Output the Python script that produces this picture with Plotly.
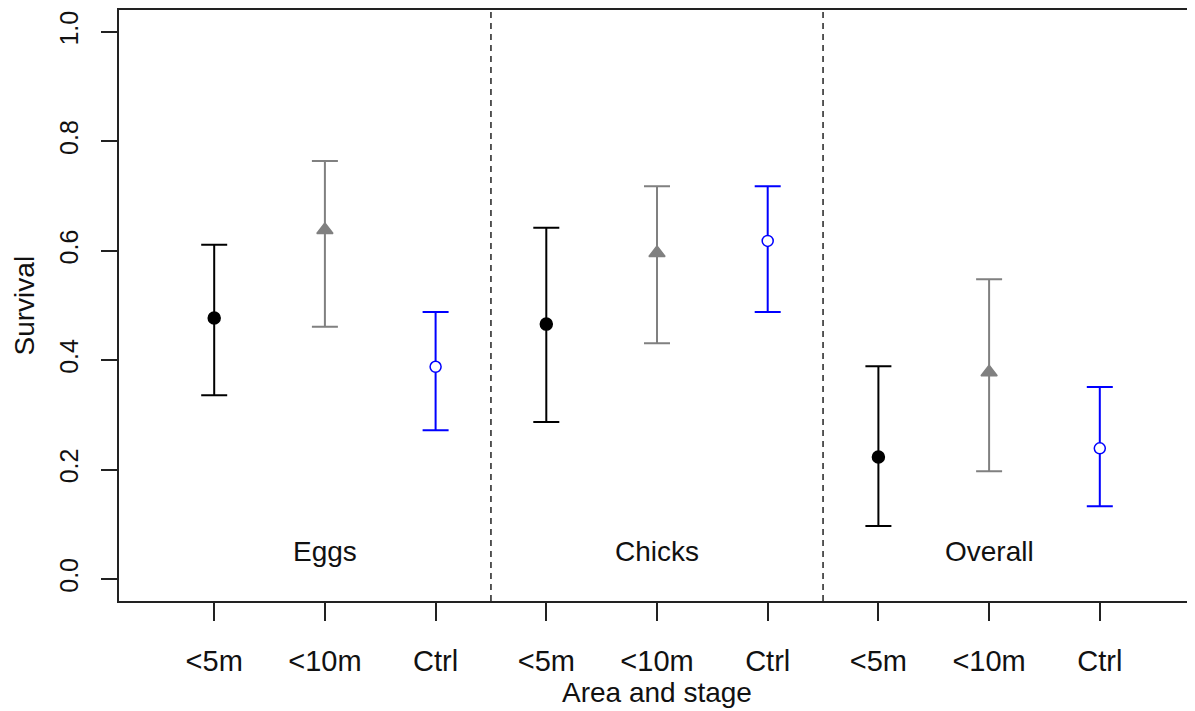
import plotly.graph_objects as go

# ---- data ----
groups = ["Eggs", "Chicks", "Overall"]
tick_labels = ["<5m", "<10m", "Ctrl", "<5m", "<10m", "Ctrl", "<5m", "<10m", "Ctrl"]
tick_positions = [1, 2, 3, 4, 5, 6, 7, 8, 9]
group_label_x = [2, 5, 8]
group_label_y = [0.05, 0.05, 0.05]
separators = [3.5, 6.5]

series_names = ["<5m", "<10m", "Ctrl"]
x_5m = [1, 4, 7]
x_10m = [2, 5, 8]
x_ctrl = [3, 6, 9]

est_5m = [0.477, 0.466, 0.223]
lo_5m = [0.336, 0.287, 0.097]
hi_5m = [0.611, 0.642, 0.389]

est_10m = [0.638, 0.596, 0.378]
lo_10m = [0.461, 0.431, 0.197]
hi_10m = [0.764, 0.718, 0.548]

est_ctrl = [0.388, 0.618, 0.239]
lo_ctrl = [0.272, 0.488, 0.133]
hi_ctrl = [0.488, 0.718, 0.351]

FONT = "Liberation Sans, Arial, sans-serif"
TXT = "#111111"

fig = go.Figure()

def add_series(name, x, est, lo, hi, color, symbol, size, fill):
    fig.add_trace(go.Scatter(
        name=name, x=x, y=est, mode="markers",
        marker=dict(symbol=symbol, size=size, color=fill,
                    line=dict(color=color, width=1.5)),
        error_y=dict(type="data", symmetric=False,
                     array=[h - e for h, e in zip(hi, est)],
                     arrayminus=[e - l for e, l in zip(est, lo)],
                     color=color, thickness=2, width=13),
        showlegend=False, cliponaxis=False,
    ))

add_series(series_names[0], x_5m, est_5m, lo_5m, hi_5m, "black", "circle", 12, "black")
add_series(series_names[1], x_10m, est_10m, lo_10m, hi_10m, "#808080", "triangle-up", 14, "#808080")
add_series(series_names[2], x_ctrl, est_ctrl, lo_ctrl, hi_ctrl, "#0000FF", "circle", 11, "white")

for sx in separators:
    fig.add_shape(type="line", x0=sx, x1=sx, y0=0, y1=1, xref="x", yref="paper",
                  line=dict(color="#222222", width=1.5, dash="6px,5px"))

for g, gx, gy in zip(groups, group_label_x, group_label_y):
    fig.add_annotation(x=gx, y=gy, xref="x", yref="y", text=g, showarrow=False,
                       font=dict(family=FONT, size=28, color=TXT))

# axis titles
fig.add_annotation(x=0.5, y=-0.154, xref="paper", yref="paper", yanchor="middle",
                   text="Area and stage", showarrow=False,
                   font=dict(family=FONT, size=28, color=TXT))
fig.add_annotation(x=-0.0874, y=0.5, xref="paper", yref="paper", xanchor="center",
                   yanchor="middle",
                   text="Survival", textangle=-90, showarrow=False,
                   font=dict(family=FONT, size=28, color=TXT))

fig.update_xaxes(
    range=[0.14, 9.86], tickvals=tick_positions, ticktext=tick_labels,
    ticks="outside", ticklen=18, tickwidth=1.5, tickcolor="#222222",
    ticklabelstandoff=15, automargin=False,
    tickfont=dict(family=FONT, size=29, color=TXT),
    showline=True, linecolor="#222222", linewidth=1.5, mirror=True,
    showgrid=False, zeroline=False,
)
fig.update_yaxes(
    range=[-0.04, 1.04], tickvals=[0, 0.2, 0.4, 0.6, 0.8, 1.0],
    ticktext=["0.0", "0.2", "0.4", "0.6", "0.8", "1.0"],
    ticks="outside", ticklen=16, tickwidth=1.5, tickcolor="#222222",
    tickangle=-90, ticklabelstandoff=13, automargin=False,
    tickfont=dict(family=FONT, size=25, color=TXT),
    showline=True, linecolor="#222222", linewidth=1.5, mirror=True,
    showgrid=False, zeroline=False,
)

# the page body adds an 8px offset; size the figure so it fills the 1195x711 window
fig.update_layout(
    width=1187, height=703,
    margin=dict(l=111, r=0, t=2, b=110),
    plot_bgcolor="white", paper_bgcolor="white",
)

fig.write_html("out.html")
